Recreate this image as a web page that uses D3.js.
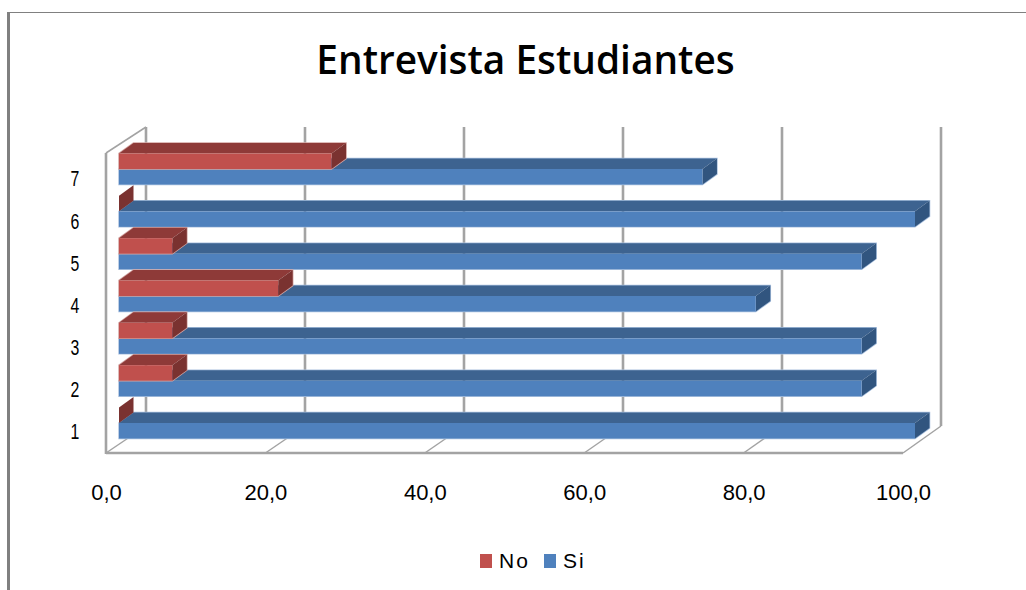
<!DOCTYPE html>
<html>
<head>
<meta charset="utf-8">
<script src="https://cdn.jsdelivr.net/npm/d3@7"></script>
<style>
  html, body { margin: 0; background: #fff; overflow: hidden; }
  svg { display: block; font-family: "Liberation Sans", sans-serif; }
</style>
</head>
<body>
<svg></svg>
<script>
let categories = ['1', '2', '3', '4', '5', '6', '7']
let noValues = [0, 6.7, 6.7, 20, 6.7, 0, 26.7]
let siValues = [100, 93.3, 93.3, 80, 93.3, 100, 73.3]
let xTicks = [0, 20, 40, 60, 80, 100]
let legendNames = ['No', 'Si']

let width = 1026
let height = 590
let depthX = 14.5
let depthY = 10.5
let barHeight = 15.5

let noColors = { front: '#c0504d', top: '#8e3a38', side: '#7a3230', edge: '#d3a5a3' }
let siColors = { front: '#4f81bd', top: '#3d6390', side: '#31557f', edge: '#a9c0de' }
let gridColor = '#a3a3a3'

let svg = d3.select('svg').attr('width', width).attr('height', height)

// three x scales because of the fake 3d: floor front, back wall and the bars
let xFront = d3.scaleLinear().domain([0, 100]).range([106, 903])
let xBack = d3.scaleLinear().domain([0, 100]).range([146, 941])
let xBar = d3.scaleLinear().domain([0, 100]).range([119, 915])
let yBar = d3.scalePoint().domain(categories).range([423, 169])
let yLabel = d3.scalePoint().domain(categories).range([431, 178])

let floorY = 453
let backBottom = 426
let backTop = 127
let wallTop = 153

let comma = d3.formatLocale({ decimal: ',', thousands: '.', grouping: [3], currency: ['', ''] }).format('.1f')

// page border
svg.append('rect').attr('x', 7).attr('y', 12).attr('width', 3).attr('height', height - 12).attr('fill', '#808080')
svg.append('rect').attr('x', 7).attr('y', 12).attr('width', width - 7).attr('height', 1).attr('fill', '#808080')

svg.append('text')
   .attr('x', 525.5)
   .attr('y', 74)
   .attr('text-anchor', 'middle')
   .style('font-family', '"Open Sans"')
   .style('font-size', '38.8px')
   .style('font-weight', 600)
   .text('Entrevista Estudiantes')

let drawWalls = () => {
    svg.selectAll('.grid')
       .data(xTicks)
       .enter()
       .append('line')
       .attr('class', 'grid')
       .attr('x1', (d) => xBack(d))
       .attr('x2', (d) => xBack(d))
       .attr('y1', backTop)
       .attr('y2', backBottom)
       .attr('stroke', gridColor)
       .attr('stroke-width', 2.6)

    svg.selectAll('.floorTick')
       .data(xTicks)
       .enter()
       .append('line')
       .attr('class', 'floorTick')
       .attr('x1', (d) => xFront(d))
       .attr('x2', (d) => xBack(d))
       .attr('y1', floorY)
       .attr('y2', backBottom)
       .attr('stroke', gridColor)
       .attr('stroke-width', 1.5)

    svg.append('line')
       .attr('x1', xFront(0)).attr('x2', xBack(0))
       .attr('y1', wallTop).attr('y2', backTop)
       .attr('stroke', gridColor).attr('stroke-width', 1.5)

    svg.append('line')
       .attr('x1', xFront(0)).attr('x2', xFront(0))
       .attr('y1', wallTop).attr('y2', floorY + 1)
       .attr('stroke', gridColor).attr('stroke-width', 2.6)

    svg.append('line')
       .attr('x1', xFront(0)).attr('x2', xFront(100))
       .attr('y1', floorY).attr('y2', floorY)
       .attr('stroke', gridColor).attr('stroke-width', 2.4)
}

let drawBar = (g, value, yTop, colors) => {
    let x0 = xBar(0)
    let x1 = xBar(value)
    let yBottom = yTop + barHeight
    let line = d3.line()

    // pale rim under the faces, the reference has this soft edge
    if (value > 0) {
        g.append('path')
         .attr('d', line([[x0, yBottom], [x0, yTop], [x0 + depthX, yTop - depthY], [x1 + depthX, yTop - depthY], [x1 + depthX, yBottom - depthY], [x1, yBottom]]) + 'Z')
         .attr('fill', 'none')
         .attr('stroke', colors.edge)
         .attr('stroke-width', 1.5)
    }

    g.append('path')
     .attr('d', line([[x0, yTop], [x0 + depthX, yTop - depthY], [x1 + depthX, yTop - depthY], [x1, yTop]]) + 'Z')
     .attr('fill', colors.top)
    g.append('path')
     .attr('d', line([[x1, yTop], [x1 + depthX, yTop - depthY], [x1 + depthX, yBottom - depthY], [x1, yBottom]]) + 'Z')
     .attr('fill', colors.side)
    g.append('rect')
     .attr('x', x0)
     .attr('y', yTop)
     .attr('width', x1 - x0)
     .attr('height', barHeight)
     .attr('fill', colors.front)
}

let drawBars = () => {
    // back rows first so the nearer ones sit on top
    categories.slice().reverse().forEach((cat) => {
        let i = categories.indexOf(cat)
        let g = svg.append('g').attr('class', 'row')
        drawBar(g, siValues[i], yBar(cat), siColors)
        drawBar(g, noValues[i], yBar(cat) - barHeight, noColors)
    })
}

let drawAxes = () => {
    let xAxis = d3.axisBottom(xFront).tickValues(xTicks).tickFormat(comma).tickSize(0)
    let gx = svg.append('g').attr('transform', 'translate(0, 483)').call(xAxis)
    gx.select('.domain').remove()
    gx.selectAll('text')
      .attr('y', 17)
      .attr('dy', 0)
      .attr('fill', '#000')
      .style('font-family', '"Liberation Sans"')
      .style('font-size', '22px')

    let yAxis = d3.axisLeft(yLabel).tickSize(0)
    let gy = svg.append('g').attr('transform', 'translate(75, 0)').call(yAxis)
    gy.select('.domain').remove()
    gy.selectAll('text')
      .attr('x', 0)
      .attr('dy', '0.36em')
      .attr('text-anchor', 'middle')
      .attr('transform', 'scale(0.72, 1)')
      .attr('fill', '#000')
      .style('font-family', '"Liberation Sans"')
      .style('font-size', '22px')
}

let drawLegend = () => {
    let swatchX = d3.scaleOrdinal().domain(legendNames).range([480, 544])
    let swatchColor = d3.scaleOrdinal().domain(legendNames).range([noColors.front, siColors.front])

    svg.selectAll('.swatch')
       .data(legendNames)
       .enter()
       .append('rect')
       .attr('class', 'swatch')
       .attr('x', (d) => swatchX(d))
       .attr('y', 554)
       .attr('width', 12)
       .attr('height', 14)
       .attr('fill', (d) => swatchColor(d))

    svg.selectAll('.legendText')
       .data(legendNames)
       .enter()
       .append('text')
       .attr('class', 'legendText')
       .attr('x', (d) => swatchX(d) + 19)
       .attr('y', 568)
       .style('font-size', '21px')
       .style('letter-spacing', '2px')
       .text((d) => d)
}

drawWalls()
drawBars()
drawAxes()
drawLegend()
</script>
</body>
</html>
